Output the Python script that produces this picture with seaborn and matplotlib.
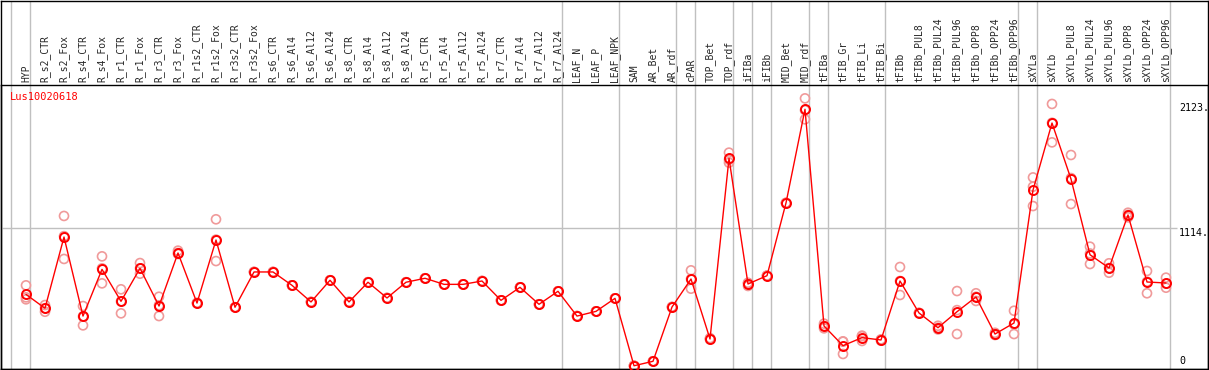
import numpy as np
import pandas as pd
import matplotlib
matplotlib.use("Agg")
import matplotlib.pyplot as plt
import seaborn as sns

# sample names (columns of the expression profile)
samples = [
    "HYP", "R_s2_CTR", "R_s2_Fox", "R_s4_CTR", "R_s4_Fox", "R_r1_CTR", "R_r1_Fox",
    "R_r3_CTR", "R_r3_Fox", "R_r1s2_CTR", "R_r1s2_Fox", "R_r3s2_CTR", "R_r3s2_Fox",
    "R_s6_CTR", "R_s6_Al4", "R_s6_Al12", "R_s6_Al24", "R_s8_CTR", "R_s8_Al4",
    "R_s8_Al12", "R_s8_Al24", "R_r5_CTR", "R_r5_Al4", "R_r5_Al12", "R_r5_Al24",
    "R_r7_CTR", "R_r7_Al4", "R_r7_Al12", "R_r7_Al24", "LEAF_N", "LEAF_P", "LEAF_NPK",
    "SAM", "AR_Bet", "AR_rdf", "cPAR", "TOP_Bet", "TOP_rdf", "iFIBa", "iFIBb",
    "MID_Bet", "MID_rdf", "tFIBa", "tFIB_Gr", "tFIB_Li", "tFIB_Bi", "tFIBb",
    "tFIBb_PUL8", "tFIBb_PUL24", "tFIBb_PUL96", "tFIBb_OPP8", "tFIBb_OPP24",
    "tFIBb_OPP96", "sXYLa", "sXYLb", "sXYLb_PUL8", "sXYLb_PUL24", "sXYLb_PUL96",
    "sXYLb_OPP8", "sXYLb_OPP24", "sXYLb_OPP96",
]

# mean expression per sample
means = [578, 466, 1041, 403, 780, 522, 788, 484, 912, 508, 1017, 474, 759, 759,
         651, 517, 692, 517, 676, 549, 676, 708, 659, 659, 686, 530, 635, 498, 603,
         403, 441, 546, 2, 38, 476, 702, 218, 1676, 662, 729, 1316, 2072, 323, 164,
         229, 210, 686, 428, 309, 438, 557, 258, 347, 1420, 1961, 1509, 898, 791,
         1219, 678, 670]

# replicates
rep_a = [651, 492, 1211, 484, 885, 619, 831, 559, 931, 508, 1184, 474, 759, 759,
         651, 517, 692, 517, 676, 549, 676, 708, 659, 659, 686, 530, 635, 498, 603,
         403, 441, 546, 2, 38, 476, 772, 225, 1722, 646, 729, 1316, 2160, 342, 196,
         245, 215, 799, 428, 325, 605, 587, 268, 446, 1522, 2115, 1703, 963, 829,
         1237, 767, 713]
rep_b = [554, 438, 864, 328, 667, 425, 745, 403, 904, 508, 847, 474, 759, 759,
         651, 517, 692, 517, 676, 549, 676, 708, 659, 659, 686, 530, 635, 498, 603,
         403, 441, 546, 2, 38, 476, 624, 215, 1641, 667, 729, 1316, 1991, 304, 97,
         202, 205, 573, 428, 295, 258, 525, 250, 258, 1447, 1805, 1307, 823, 753,
         1200, 587, 632]
rep_c = [538, 466, 1048, 400, 788, 522, 788, 490, 912, 508, 1020, 474, 759, 759,
         651, 517, 692, 517, 676, 549, 676, 708, 659, 659, 686, 530, 635, 498, 603,
         403, 441, 546, 2, 38, 476, 702, 218, 1665, 672, 729, 1316, 2065, 323, 199,
         240, 210, 686, 428, 309, 451, 559, 258, 337, 1291, 1963, 1517, 908, 791,
         1220, 680, 665]

# last sample of each tissue group (separator drawn right after it)
group_ends = [-1, 0, 28, 31, 34, 35, 37, 38, 39, 41, 42, 45, 52, 53, 60]

y_ticks = [0, 1114, 2123]
y_tick_labels = ["0", "1114.", "2123."]
gene = "Lus10020618"

pos = np.arange(len(samples))
df_mean = pd.DataFrame({"pos": pos, "value": means})
df_rep = pd.DataFrame({
    "pos": np.concatenate([pos, pos, pos]),
    "value": rep_a + rep_b + rep_c,
})

sns.set_style("white")
plt.rcParams["font.family"] = ["DejaVu Sans Mono", "DejaVu Sans"]

W, H = 1209, 370
fig = plt.figure(figsize=(W / 100, H / 100), dpi=100)

x0, x1 = (1 - 26) / 19, (1208 - 26) / 19

# frame for the whole panel (labels + plot)
bg = fig.add_axes([1 / W, 1 / H, 1207 / W, 368.5 / H])
bg.set_xlim(x0, x1)
bg.set_ylim(0, 1)
bg.set_xticks([])
bg.set_yticks([])
for s in bg.spines.values():
    s.set_color("black")
    s.set_linewidth(1)
for g in group_ends:
    bg.axvline(g + 0.21, color="#c0c0c0", lw=1, zorder=0)

# plot area
ax = fig.add_axes([1 / W, 1 / H, 1207 / W, 284 / H])
ax.patch.set_alpha(0)
ax.set_xlim(x0, x1)
ax.set_ylim((366 - 369) / 0.1239, (366 - 85) / 0.1239)
for s in ax.spines.values():
    s.set_color("black")
    s.set_linewidth(1)

ax.hlines(1114, x0, 60.6, color="#c0c0c0", lw=1, zorder=0)

sns.scatterplot(data=df_rep, x="pos", y="value", ax=ax, marker="o", s=42,
                facecolors="none", edgecolor="#f09a9a", linewidth=1.2,
                zorder=2, clip_on=False)
sns.lineplot(data=df_mean, x="pos", y="value", ax=ax, color="red", lw=1,
             marker="o", markersize=6.5, markerfacecolor="none",
             markeredgecolor="red", markeredgewidth=1.4, zorder=3, clip_on=False)

ax.set_xlabel("")
ax.set_ylabel("")
ax.set_yticks([])
ax.xaxis.tick_top()
ax.set_xticks(pos)
ax.set_xticklabels(samples, rotation=90, fontsize=7)
ax.tick_params(axis="x", length=0, pad=2)

for v, lab in zip(y_ticks, y_tick_labels):
    ax.text(60.68, v, lab, fontsize=7.2, ha="left",
            va="bottom" if v == 0 else "top", color="black")

ax.text(0.0075, 0.959, gene, transform=ax.transAxes, color="red",
        fontsize=7.5, ha="left", va="center")

fig.savefig("out.png", dpi=100)
